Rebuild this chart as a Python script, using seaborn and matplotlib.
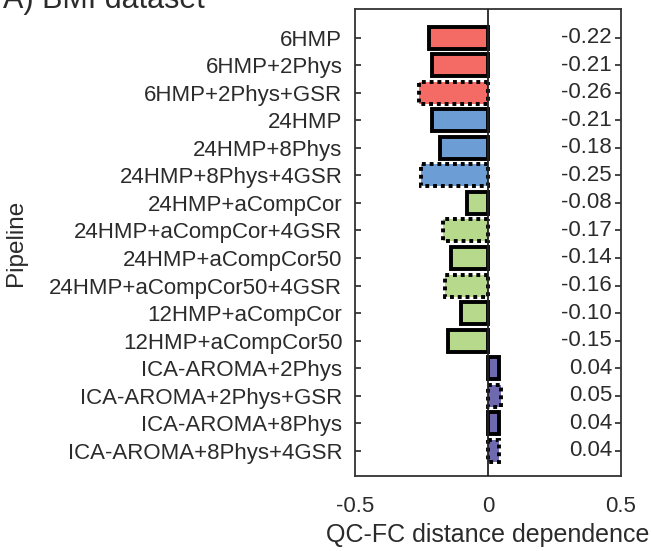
import matplotlib
matplotlib.use("Agg")
import matplotlib.pyplot as plt
import seaborn as sns
import pandas as pd

pipelines = ["6HMP", "6HMP+2Phys", "6HMP+2Phys+GSR", "24HMP", "24HMP+8Phys",
             "24HMP+8Phys+4GSR", "24HMP+aCompCor", "24HMP+aCompCor+4GSR",
             "24HMP+aCompCor50", "24HMP+aCompCor50+4GSR", "12HMP+aCompCor",
             "12HMP+aCompCor50", "ICA-AROMA+2Phys", "ICA-AROMA+2Phys+GSR",
             "ICA-AROMA+8Phys", "ICA-AROMA+8Phys+4GSR"]
values = [-0.22, -0.21, -0.26, -0.21, -0.18, -0.25, -0.08, -0.17,
          -0.14, -0.16, -0.10, -0.15, 0.04, 0.05, 0.04, 0.04]
families = ["HMP", "HMP", "HMP", "24HMP", "24HMP", "24HMP", "aCompCor", "aCompCor",
            "aCompCor", "aCompCor", "aCompCor", "aCompCor", "AROMA", "AROMA", "AROMA", "AROMA"]
gsr = [False, False, True, False, False, True, False, True,
       False, True, False, False, False, True, False, True]
palette = {"HMP": "#F46A64", "24HMP": "#6C9DD4", "aCompCor": "#B7D98C", "AROMA": "#6F69B0"}

df = pd.DataFrame({"pipeline": pipelines, "value": values, "family": families})

sns.set_style("ticks")
plt.rcParams["font.family"] = ["Liberation Sans", "DejaVu Sans"]
txt = "#2b2b2b"

fig = plt.figure(figsize=(6.51, 5.51), dpi=100)
ax = fig.add_axes([0.545, 0.136, 0.409, 0.848])

sns.barplot(data=df, y="pipeline", x="value", hue="family", palette=palette,
            dodge=False, legend=False, width=0.8, ax=ax, orient="h", saturation=1)

for patch in ax.patches:
    yc = patch.get_y() + patch.get_height() / 2
    i = int(round(yc))
    patch.set_edgecolor("black")
    patch.set_linewidth(2.8)
    if gsr[i]:
        patch.set_linestyle((0, (1, 1)))

ax.axvline(0, color="#222222", lw=1.3, zorder=5)

for i, v in enumerate(values):
    ax.text(0.466, i, f"{v:.2f}", ha="right", va="center", fontsize=16, color=txt)

ax.set_xlim(-0.5, 0.5)
ax.set_ylim(15.92, -1.05)
ax.set_xticks([-0.5, 0, 0.5])
ax.set_xticklabels(["-0.5", "0", "0.5"])
ax.tick_params(axis="y", direction="in", length=4, labelsize=16, labelcolor=txt, pad=9, right=True, width=1.2)
ax.tick_params(axis="x", direction="in", length=0, labelsize=16, labelcolor=txt, pad=14)
ax.set_xlabel("QC-FC distance dependence", fontsize=18, color=txt, labelpad=5)
ax.set_ylabel("Pipeline", fontsize=17.5, color=txt, labelpad=16)
for s in ax.spines.values():
    s.set_linewidth(1.3)
    s.set_color("#333333")

fig.text(0.004, 0.986, "A) BMI dataset", fontsize=22, color=txt, va="baseline", ha="left")

fig.savefig("out.png", dpi=100)
